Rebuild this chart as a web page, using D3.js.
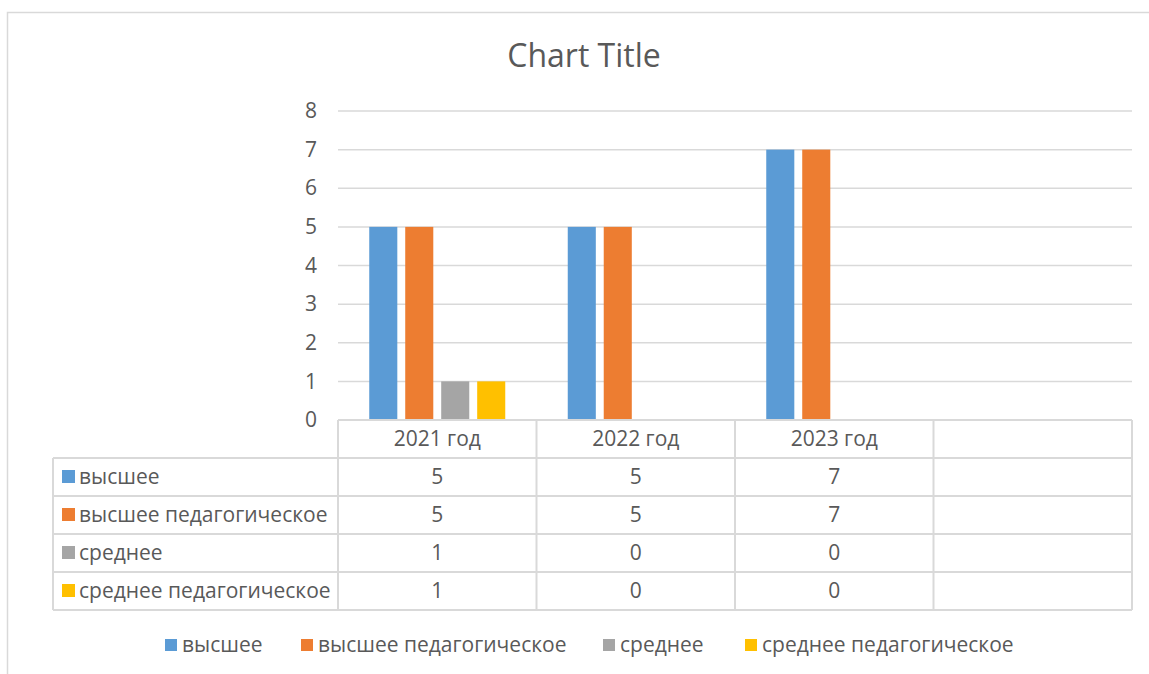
<!DOCTYPE html>
<html>
<head>
<meta charset="utf-8">
<script src="https://cdn.jsdelivr.net/npm/d3@7"></script>
<style>
  body { margin: 0; background: #fff; }
  svg { display: block; font-family: "Open Sans", sans-serif; }
</style>
</head>
<body>
<svg id="chart" width="1149" height="674"></svg>
<script>
const categories = ["2021 год", "2022 год", "2023 год", ""]
const seriesNames = ["высшее", "высшее педагогическое", "среднее", "среднее педагогическое"]
const seriesColors = ["#5b9bd5", "#ed7d31", "#a5a5a5", "#ffc000"]
const vysshee = [5, 5, 7, null]
const vyssheePed = [5, 5, 7, null]
const srednee = [1, 0, 0, null]
const sredneePed = [1, 0, 0, null]
const yTicks = [0, 1, 2, 3, 4, 5, 6, 7, 8]

const series = [vysshee, vyssheePed, srednee, sredneePed]

const svg = d3.select("#chart")
const textColor = "#595959"
const lineColor = "#d9d9d9"
const fs = "21px"

// chart border
svg.append("path")
  .attr("d", "M7.5,674 V12.5 H1149")
  .attr("fill", "none")
  .attr("stroke", lineColor)
  .attr("stroke-width", 1.5)

// title
svg.append("text")
  .attr("x", 584)
  .attr("y", 67)
  .attr("text-anchor", "middle")
  .attr("fill", textColor)
  .style("font-size", "32px")
  .text("Chart Title")

const plot = { left: 338, right: 1132, top: 111, bottom: 420 }

const x = d3.scaleBand()
  .domain(d3.range(categories.length))
  .range([plot.left, plot.right])

const y = d3.scaleLinear()
  .domain([0, 8])
  .range([plot.bottom, plot.top])

const xInner = d3.scaleBand()
  .domain(d3.range(series.length))
  .range([0, 136])
  .paddingInner(0.22)

// gridlines
svg.append("g")
  .selectAll("line")
  .data(yTicks.filter(t => t > 0))
  .join("line")
  .attr("x1", plot.left)
  .attr("x2", plot.right)
  .attr("y1", d => y(d))
  .attr("y2", d => y(d))
  .attr("stroke", lineColor)
  .attr("stroke-width", 1.5)

// y axis labels
const yAxis = d3.axisLeft(y).tickValues(yTicks).tickSize(0).tickPadding(21)
const yG = svg.append("g")
  .attr("transform", `translate(${plot.left},0)`)
  .call(yAxis)
yG.select(".domain").remove()
yG.selectAll("text")
  .attr("fill", textColor)
  .style("font-size", fs)
  .style("font-family", "Open Sans")

// bars
const groupOffset = (x.bandwidth() - 136) / 2
series.forEach((vals, si) => {
  svg.append("g")
    .selectAll("rect")
    .data(vals.map((v, i) => ({ v, i })).filter(d => d.v))
    .join("rect")
    .attr("x", d => x(d.i) + groupOffset + xInner(si))
    .attr("width", xInner.bandwidth())
    .attr("y", d => y(d.v))
    .attr("height", d => y(0) - y(d.v))
    .attr("fill", seriesColors[si])
})

// data table
const tableLeft = 53
const rowH = 38
const rowTop = d3.scaleLinear().domain([0, 1]).range([plot.bottom, plot.bottom + rowH])
const table = svg.append("g")

// horizontal lines
const hLines = [0, 1, 2, 3, 4, 5]
table.selectAll(".hl")
  .data(hLines)
  .join("line")
  .attr("class", "hl")
  .attr("x1", d => d === 0 ? plot.left : tableLeft)
  .attr("x2", plot.right)
  .attr("y1", d => rowTop(d))
  .attr("y2", d => rowTop(d))
  .attr("stroke", lineColor)
  .attr("stroke-width", 2)

// vertical lines
table.append("line")
  .attr("x1", tableLeft).attr("x2", tableLeft)
  .attr("y1", rowTop(1)).attr("y2", rowTop(5))
  .attr("stroke", lineColor).attr("stroke-width", 2)
table.selectAll(".vl")
  .data(d3.range(categories.length + 1))
  .join("line")
  .attr("class", "vl")
  .attr("x1", d => plot.left + d * x.bandwidth())
  .attr("x2", d => plot.left + d * x.bandwidth())
  .attr("y1", rowTop(0))
  .attr("y2", rowTop(5))
  .attr("stroke", lineColor)
  .attr("stroke-width", 2)

// header
table.selectAll(".hdr")
  .data(categories)
  .join("text")
  .attr("class", "hdr")
  .attr("x", (d, i) => x(i) + x.bandwidth() / 2)
  .attr("y", rowTop(0.5) + 7)
  .attr("text-anchor", "middle")
  .attr("fill", textColor)
  .style("font-size", fs)
  .text(d => d)

// rows
series.forEach((vals, si) => {
  const cy = rowTop(si + 1.5)
  table.append("rect")
    .attr("x", tableLeft + 9)
    .attr("y", cy - 7)
    .attr("width", 13)
    .attr("height", 13)
    .attr("fill", seriesColors[si])
  table.append("text")
    .attr("x", tableLeft + 26)
    .attr("y", cy + 7)
    .attr("fill", textColor)
    .style("font-size", fs)
    .text(seriesNames[si])
  table.append("g")
    .selectAll("text")
    .data(vals.map((v, i) => ({ v, i })).filter(d => d.v !== null))
    .join("text")
    .attr("x", d => x(d.i) + x.bandwidth() / 2)
    .attr("y", cy + 7)
    .attr("text-anchor", "middle")
    .attr("fill", textColor)
    .style("font-size", fs)
    .text(d => d.v)
})

// legend
const legendX = [165, 301, 603, 745]
const legend = svg.append("g")
seriesNames.forEach((name, i) => {
  legend.append("rect")
    .attr("x", legendX[i])
    .attr("y", 639)
    .attr("width", 12)
    .attr("height", 12)
    .attr("fill", seriesColors[i])
  legend.append("text")
    .attr("x", legendX[i] + 17)
    .attr("y", 652)
    .attr("fill", textColor)
    .style("font-size", fs)
    .text(name)
})
</script>
</body>
</html>
